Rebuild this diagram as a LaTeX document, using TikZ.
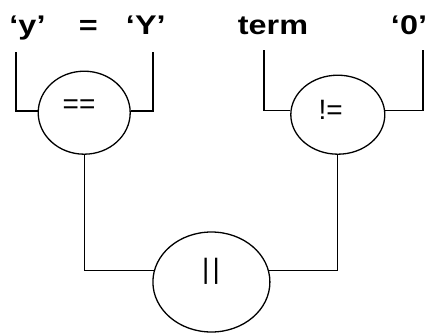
\documentclass[tikz,border=0pt]{standalone}
\usepackage{fontspec}
\setmainfont{Liberation Sans}
\newfontfamily\lblfont[FakeStretch=1.2]{Liberation Sans}
\usetikzlibrary{shapes.geometric}
\begin{document}
\begin{tikzpicture}[x=1pt,y=-1pt,
  op/.style={ellipse,draw,line width=1.3pt,inner sep=0pt},
  optext/.style={font=\fontsize{28}{28}\selectfont,inner sep=0pt},
  lbl/.style={font=\lblfont\bfseries\fontsize{27}{27}\selectfont,anchor=base,inner sep=0pt},
  wire/.style={line width=1.3pt}]
\useasboundingbox (0,0) rectangle (427,332);
% labels
\node[lbl] (ly) at (27.5,34.3) {‘y’};
\node[lbl] (leq) at (88.3,34.3) {=};
\node[lbl] (lY) at (145.8,34.3) {‘Y’};
\node[lbl] (lterm) at (273,34.3) {term};
\node[lbl] (lzero) at (409,34.3) {‘0’};
% operators
\node[op,minimum width=92pt,minimum height=83pt] (e1) at (84.2,112.7) {};
\node[optext] (t1) at (79,106.7) {==};
\node[op,minimum width=94pt,minimum height=79pt] (e2) at (337.8,114.7) {};
\node[optext] (t2) at (330.7,110) {!=};
\node[op,minimum width=117pt,minimum height=100pt] (e3) at (211.4,282) {};
\node[optext] (t3) at (211,271.7) {|\hspace{3pt}|};
% free ends
\coordinate (a1) at (16,52);
\coordinate (b1) at (153,52);
\coordinate (a2) at (264,50);
\coordinate (b2) at (423,50);
% connectors
\draw[wire] (a1) |- (e1.178);
\draw[wire] (b1) |- (e1.2);
\draw[wire] (a2) |- (e2.175);
\draw[wire] (b2) |- (e2.5);
\draw[wire] (e1.south) |- (e3.169);
\draw[wire] (e2.south) |- (e3.11);
\end{tikzpicture}
\end{document}
